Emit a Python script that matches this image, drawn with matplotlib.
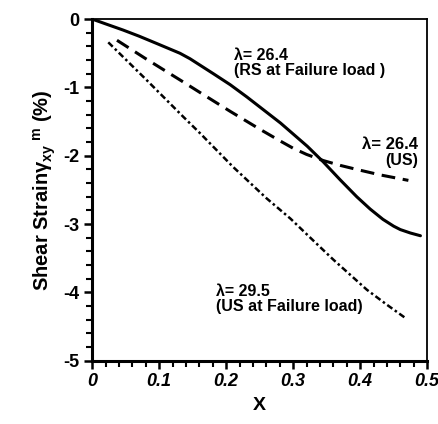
import numpy as np
import matplotlib
matplotlib.use("Agg")
import matplotlib.pyplot as plt
from matplotlib.ticker import MultipleLocator

plt.rcParams['font.family'] = ['Liberation Sans', 'DejaVu Sans']
plt.rcParams['mathtext.fontset'] = 'custom'
plt.rcParams['mathtext.rm'] = 'Liberation Sans:bold'
plt.rcParams['mathtext.it'] = 'Liberation Sans:bold'

# data
x_rs = [0.0, 0.02, 0.046, 0.07, 0.097, 0.131, 0.146, 0.181, 0.206, 0.231, 0.281, 0.321, 0.345,
        0.37, 0.395, 0.415, 0.434, 0.45, 0.46, 0.475, 0.49]
y_rs = [0.0, -0.07, -0.16, -0.25, -0.36, -0.50, -0.58, -0.80, -0.96, -1.14, -1.52, -1.86, -2.09,
        -2.35, -2.60, -2.78, -2.93, -3.03, -3.08, -3.13, -3.17]

x_us = [0.037, 0.08, 0.131, 0.17, 0.206, 0.25, 0.28, 0.30, 0.32, 0.345, 0.37, 0.395, 0.43, 0.472]
y_us = [-0.31, -0.58, -0.89, -1.13, -1.35, -1.61, -1.78, -1.89, -1.98, -2.07, -2.14, -2.20, -2.28, -2.36]

x_us295 = [0.024, 0.08, 0.136, 0.161, 0.21, 0.26, 0.296, 0.33, 0.36, 0.41, 0.44, 0.467]
y_us295 = [-0.34, -0.88, -1.43, -1.67, -2.16, -2.62, -2.92, -3.24, -3.52, -3.96, -4.18, -4.37]

fig = plt.figure(figsize=(4.39, 4.24), dpi=100)
ax = fig.add_axes([0.21, 0.149, 0.763, 0.806])

ax.plot(x_rs, y_rs, color='black', lw=2.2, solid_joinstyle='round', solid_capstyle='round')
ax.plot(x_us, y_us, color='black', lw=2.2, dashes=(4.5, 2.5))
ax.plot(x_us295, y_us295, color='black', lw=1.8, dashes=(2.5, 1.2, 1, 1.2))

ax.set_xlim(0, 0.5)
ax.set_ylim(-5, 0)
ax.xaxis.set_minor_locator(MultipleLocator(0.02))
ax.yaxis.set_minor_locator(MultipleLocator(0.2))
ax.set_xticks([0, 0.1, 0.2, 0.3, 0.4, 0.5])
ax.set_xticklabels(['0', '0.1', '0.2', '0.3', '0.4', '0.5'], fontstyle='italic', fontweight='bold', fontsize=13)
ax.set_yticks([0, -1, -2, -3, -4, -5])
ax.set_yticklabels(['0', '-1', '-2', '-3', '-4', '-5'], fontweight='bold', fontsize=13)
ax.tick_params(which='major', direction='out', length=6, width=1.8, top=False, right=False, pad=3)
ax.tick_params(which='minor', direction='out', length=4, width=1.5, top=False, right=False)

ax.spines['left'].set_linewidth(2.2)
ax.spines['bottom'].set_linewidth(2.2)
ax.spines['top'].set_linewidth(1.3)
ax.spines['right'].set_linewidth(1.3)

ax.set_xlabel('X', fontsize=14, fontweight='bold', labelpad=5)
ax.set_ylabel(r'Shear Strain$\gamma_{xy}$$^{\ m}$ (%)', fontsize=14.5, fontweight='bold', labelpad=4)

ax.text(0.212, -0.42, 'λ= 26.4\n(RS at Failure load )', fontsize=11.5, fontweight='bold',
        va='top', ha='left', linespacing=1.0)
ax.text(0.486, -1.72, 'λ= 26.4', fontsize=12, fontweight='bold', va='top', ha='right')
ax.text(0.486, -1.96, '(US)', fontsize=11.5, fontweight='bold', va='top', ha='right')
ax.text(0.185, -3.88, 'λ= 29.5\n(US at Failure load)', fontsize=11.5, fontweight='bold',
        va='top', ha='left', linespacing=1.0)

fig.savefig('out.png', dpi=100)
